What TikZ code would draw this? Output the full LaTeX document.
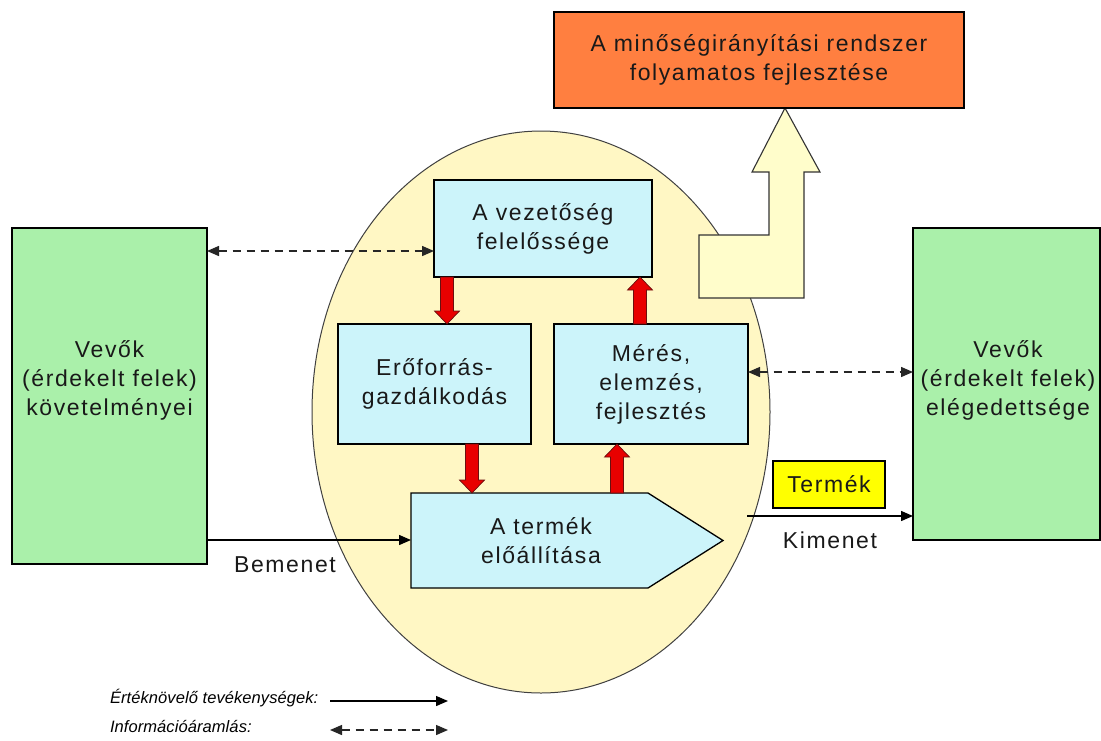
\documentclass[tikz,border=0pt]{standalone}
\usepackage{fontspec}
\setmainfont{Liberation Sans}[LetterSpace=7]
\newfontfamily\legfont{Liberation Sans}[LetterSpace=0.5]
\usetikzlibrary{arrows.meta,shapes.geometric}
\definecolor{cgreen}{HTML}{AAF0AA}
\definecolor{cblue}{HTML}{CCF4FA}
\definecolor{cell}{HTML}{FFF7C4}
\definecolor{carrow}{HTML}{FFFDCB}
\definecolor{corange}{HTML}{FF7F40}
\definecolor{cyel}{HTML}{FFFF00}
\definecolor{cred}{HTML}{E80000}
\definecolor{credline}{HTML}{6A1010}
\begin{document}
\begin{tikzpicture}[x=1pt,y=-1pt,
  every node/.style={inner sep=0pt, outer sep=0pt},
  txt/.style={font=\fontsize{23}{29}\selectfont, align=center, text=black!90},
  box/.style={draw=black, line width=1.3pt, txt},
  greenbox/.style={box, fill=cgreen},
  bluebox/.style={box, fill=cblue},
  flow/.style={-{Triangle[length=12pt,width=10pt]}, line width=1.4pt, draw=black},
  info/.style={{Triangle[length=12pt,width=10pt]}-{Triangle[length=12pt,width=10pt]}, line width=1.4pt, dash pattern=on 8pt off 6pt, draw=black!85},
  redfill/.style={fill=cred, draw=credline, line width=0.7pt},
  pics/rdown/.style={code={\draw[redfill] (-6.5,0) -- (6.5,0) -- (6.5,#1-13) -- (12.5,#1-13) -- (0,#1) -- (-12.5,#1-13) -- (-6.5,#1-13) -- cycle;}},
  pics/rup/.style={code={\draw[redfill] (-6.5,0) -- (6.5,0) -- (6.5,13-#1) -- (12.5,13-#1) -- (0,-#1) -- (-12.5,13-#1) -- (-6.5,13-#1) -- cycle;}},
  legtxt/.style={font=\legfont\fontsize{16.5}{20}\selectfont\itshape, text=black, anchor=base west},
  lbl/.style={font=\fontsize{23}{29}\selectfont, text=black!90, anchor=base}
]
\useasboundingbox[fill=white] (0,0) rectangle (1101,740);

% central ellipse
\node[ellipse, draw=black!75, line width=1pt, fill=cell, minimum width=458pt, minimum height=562pt] (ell) at (541,412) {};

% big bent arrow to the improvement box
\draw[fill=carrow, draw=black!80, line width=1.1pt] (699,235) -- (769,235) -- (769,172) -- (752,172) -- (785,108) -- (820,172) -- (804,172) -- (804,298) -- (699,298) -- cycle;

% boxes
\node[box, fill=corange, minimum width=410pt, minimum height=96pt] (org) at (759,60) {A minőségirányítási rendszer\\folyamatos fejlesztése};
\node[greenbox, minimum width=195pt, minimum height=336pt] (lgreen) at (109.5,396) {};
\node[txt] (ltxt) at (109.5,380) {Vevők\\(érdekelt felek)\\követelményei};
\node[greenbox, minimum width=187pt, minimum height=312pt] (rgreen) at (1006.5,384) {};
\node[txt] (rtxt) at (1008,380) {Vevők\\(érdekelt felek)\\elégedettsége};
\node[bluebox, minimum width=218pt, minimum height=97pt] (vez) at (543,228.5) {A vezetőség\\felelőssége};
\node[bluebox, minimum width=193pt, minimum height=120pt] (ero) at (434.5,384) {Erőforrás-\\gazdálkodás};
\node[bluebox, minimum width=194pt, minimum height=120pt] (mer) at (651,384) {Mérés,\\elemzés,\\fejlesztés};
\draw[fill=cblue, draw=black, line width=1.3pt] (411,493) -- (648,493) -- (723,540.5) -- (648,588) -- (411,588) -- cycle;
\node[txt] (term) at (541,541) {A termék\\előállítása};
\coordinate (termW) at (411,540);
\node[box, fill=cyel, minimum width=112pt, minimum height=47pt] (prod) at (829,484.5) {Termék};

% red block arrows
\pic at (vez.south -| 447,0) {rdown=47};
\pic at (ero.south -| 472,0) {rdown=49};
\pic at (mer.north -| 640,0) {rup=47};
\pic at (617,493) {rup=49};

% information flows
\draw[info] (lgreen.east |- 0,251) -- (vez.west |- 0,251);
\draw[info] (mer.east |- 0,372) -- (rgreen.west |- 0,372);

% value adding flows
\draw[flow] (lgreen.east |- termW) -- (termW);
\node[lbl] (bem) at (285,572) {Bemenet};
\coordinate (kout) at (747,516);
\draw[flow] (kout) -- (rgreen.west |- kout);
\node[lbl] (kim) at (830,548) {Kimenet};

% legend
\node[legtxt] (leg1) at (110,703) {Értéknövelő tevékenységek:};
\node[legtxt] (leg2) at (110,732) {Információáramlás:};
\coordinate (l1a) at (330,701);
\coordinate (l1b) at (448,701);
\coordinate (l2a) at (330,730);
\coordinate (l2b) at (448,730);
\draw[flow] (l1a) -- (l1b);
\draw[info] (l2a) -- (l2b);
\end{tikzpicture}
\end{document}
